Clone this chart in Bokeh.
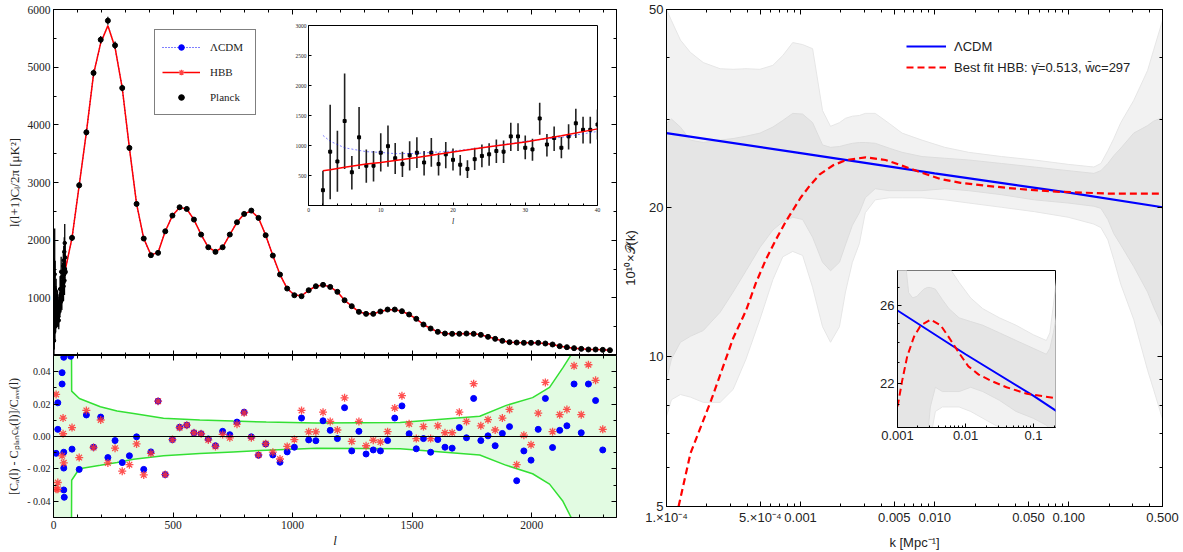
import numpy as np
from bokeh.plotting import figure
from bokeh.models import FixedTicker, LinearAxis, LogAxis, Legend, LegendItem, Span, Range1d
from bokeh.layouts import column, row
from bokeh.embed import file_html
from bokeh.resources import INLINE

# ---------------- left panel data (CMB TT) ----------------
planck_l = [47.5, 77.5, 107.5, 137.5, 167.5, 197.5, 227.5, 257.5, 287.5, 317.5,
            347.5, 377.5, 407.5, 437.5, 467.5, 497.5, 527.5, 557.5, 587.5, 617.5,
            647.5, 677.5, 707.5, 737.5, 767.5, 797.5, 827.5, 857.5, 887.5, 917.5,
            947.5, 977.5, 1007.5, 1037.5, 1067.5, 1097.5, 1127.5, 1157.5, 1187.5, 1217.5,
            1247.5, 1277.5, 1307.5, 1337.5, 1367.5, 1397.5, 1427.5, 1457.5, 1487.5, 1517.5,
            1547.5, 1577.5, 1607.5, 1637.5, 1667.5, 1697.5, 1727.5, 1757.5, 1787.5, 1817.5,
            1847.5, 1877.5, 1907.5, 1937.5, 1967.5, 1997.5, 2027.5, 2057.5, 2087.5, 2117.5,
            2147.5, 2177.5, 2207.5, 2237.5, 2267.5, 2297.5, 2327.5]
planck_cl = [1450, 2040, 2952, 3870, 4900, 5476, 5806, 5378, 4639, 3600,
             2629, 2028, 1739, 1780, 2154, 2426, 2570, 2542, 2357, 2097,
             1877, 1797, 1877, 2097, 2310, 2455, 2513, 2386, 2085, 1733,
             1404, 1161, 1045, 1028, 1132, 1201, 1225, 1190, 1104, 958,
             855, 757, 722, 722, 763, 797, 797, 768, 711, 636,
             537, 468, 410, 381, 376, 376, 381, 376, 358, 324,
             289, 254, 231, 225, 220, 220, 220, 208, 191, 162,
             144, 127, 115, 104, 104, 98, 92]
planck_err = [60, 55, 52, 55, 60, 65, 70, 65, 58, 50,
              42, 36, 34, 34, 36, 38, 38, 36, 33, 30,
              28, 28, 29, 30, 31, 31, 29, 26, 24, 21,
              19, 18, 18, 19, 19, 19, 18, 17, 16, 15,
              14, 14, 14, 14, 14, 14, 14, 13, 13, 12,
              11, 11, 11, 11, 11, 11, 11, 11, 11, 10,
              10, 10, 10, 10, 10, 10, 10, 10, 10, 10,
              10, 10, 10, 10, 10, 10, 10]
hbb_cl_bin = [1450, 2040, 2952, 3870, 4880, 5420, 5720, 5340, 4639, 3600,
              2629, 2028, 1745, 1785, 2154, 2426, 2565, 2540, 2357, 2097,
              1877, 1800, 1877, 2097, 2310, 2455, 2505, 2386, 2085, 1733,
              1404, 1161, 1050, 1035, 1132, 1201, 1222, 1190, 1104, 958,
              855, 757, 725, 725, 763, 795, 795, 768, 711, 636,
              537, 468, 410, 381, 376, 376, 380, 376, 358, 324,
              289, 254, 231, 225, 220, 220, 218, 208, 191, 162,
              144, 127, 115, 104, 104, 98, 92]
lowl_l = [2, 3, 4, 5, 6, 7, 8, 9, 10, 11, 12, 13, 14, 15, 16, 17, 18, 19, 20, 21,
          22, 23, 24, 25, 26, 27, 28, 29, 30, 31, 32, 33, 34, 35, 36, 37, 38, 39,
          40, 41, 42, 43, 44, 45, 46, 47, 48, 49]
lowl_cl = [255, 897, 734, 1408, 554, 1136, 663, 663, 880, 989,
           788, 690, 837, 880, 717, 880, 690, 853, 761, 679,
           609, 772, 826, 853, 908, 897, 1152, 1152, 962, 935,
           1451, 1016, 1125, 962, 1152, 1370, 1261, 1261,
           1350, 1550, 1200, 1650, 1400, 1800, 1300, 1950, 1500, 1700]
lowl_lo = [-98, 103, 228, 609, 266, 609, 380, 402, 565, 647,
           527, 473, 582, 625, 500, 647, 500, 620, 582, 500,
           457, 592, 636, 663, 707, 707, 908, 908, 772, 745,
           1179, 815, 908, 788, 935, 1125, 1033, 1033,
           1100, 1300, 950, 1400, 1150, 1550, 1050, 1650, 1250, 1450]
lowl_hi = [580, 1680, 1245, 2201, 826, 1641, 935, 908, 1206, 1332,
           1043, 897, 1071, 1136, 908, 1125, 880, 1060, 951, 842,
           755, 962, 1016, 1038, 1098, 1082, 1380, 1370, 1168, 1114,
           1712, 1190, 1315, 1141, 1353, 1614, 1478, 1478,
           1600, 1800, 1450, 1900, 1650, 2050, 1550, 2280, 1750, 1950]
curve_low_l = [2, 3, 5, 8, 10, 12, 15, 20, 25, 30, 35, 40]
hbb_low = [580, 595, 636, 690, 717, 750, 799, 891, 978, 1060, 1163, 1277]
lcdm_low = [1168, 1071, 962, 897, 885, 864, 868, 908, 978, 1071, 1136, 1234]

# residuals
lcdm_res_bin = [-0.0078, -0.0203, 0.0133, -0.0066, 0.012, -0.013, -0.0025, -0.0161, -0.0119, -0.0002,
                -0.0203, -0.0095, 0.0218, -0.0235, -0.0019, 0.0057, 0.007, 0.0023, 0.0017, -0.0015,
                -0.0057, 0.0032, 0.0011, 0.0089, 0.015, -0.0002, -0.0116, -0.0046, -0.0114, -0.0159,
                -0.0095, -0.0066, 0.0114, -0.0021, -0.0026, 0.0097, 0.0038, -0.0013, 0.0178, -0.0089,
                0.0032, -0.0108, -0.0083, -0.0089, -0.0025, 0.0114, 0.0189, 0.0017, -0.0076, -0.0013,
                -0.0097, -0.0019, -0.0066, -0.0072, 0.0055, -0.0008, 0.0235, -0.0025, 0.0004, -0.0057,
                0.0019, 0.0061, -0.0273, -0.0089, -0.0146, 0.0044, 0.0235, -0.0068, 0.0038, 0.0066,
                0.0324, 0.0023, 0.0324, 0.0222, -0.0083]
hbb_res_bin = [0.0055, -0.013, 0.0161, -0.0068, 0.0102, -0.0163, -0.0072, -0.0214, -0.0174, -0.0046,
               -0.0237, -0.0104, 0.0218, -0.0235, -0.0019, 0.0055, 0.007, 0.0023, 0.0017, -0.0021,
               -0.0061, 0.0013, -0.0008, 0.0076, 0.0146, -0.0008, -0.0114, -0.0044, -0.0097, -0.0139,
               -0.0061, -0.0019, 0.0161, 0.0029, 0.0029, 0.015, 0.0093, 0.004, 0.0239, -0.003,
               0.0093, -0.0057, -0.0023, -0.0034, 0.003, 0.0176, 0.0252, 0.0078, -0.0013, 0.0061,
               -0.0013, 0.0066, 0.0023, 0.0023, 0.015, 0.0093, 0.0326, 0.0066, 0.0104, 0.004,
               0.0114, 0.0167, -0.0174, 0.0008, -0.0051, 0.0144, 0.0334, 0.003, 0.0135, 0.0167,
               0.0436, 0.0135, 0.0443, 0.0347, 0.0044]
lcdm_res_low_l = [11, 18, 18, 36, 36, 43, 43, 43, 43, 45, 72]
lcdm_res_low = [-0.0104, 0.0208, 0.0044, 0.0394, 0.0324, 0.0489, -0.0097, -0.0195, -0.033, -0.0375, 0.0495]
hbb_res_low_l = [11, 18, 11, 18, 40, 40, 36, 43]
hbb_res_low = [0.026, -0.0284, -0.0326, -0.0326, 0.0114, 0.0017, -0.0119, -0.0163]
band_l = [0, 74, 76, 108, 196, 266, 335, 460, 612, 751, 890, 1100, 1450, 1783, 1894, 2004, 2075, 2131, 2172, 2180, 2400]
band_up = [0.1, 0.1, 0.028, 0.0235, 0.0184, 0.0157, 0.0142, 0.0112, 0.0102, 0.0095, 0.0089,
           0.0083, 0.0087, 0.0125, 0.0192, 0.024, 0.0303, 0.0425, 0.052, 0.1, 0.1]
band_dn = [-0.1, -0.1, -0.027, -0.0199, -0.0178, -0.016, -0.014, -0.0119, -0.0105, -0.0095, -0.0085,
           -0.0072, -0.0076, -0.0114, -0.0178, -0.023, -0.0294, -0.04, -0.052, -0.1, -0.1]

# ---------------- right panel data (primordial spectrum) ----------------
band_k = [1.0e-4, 1.089e-4, 1.27e-4, 1.506e-4, 1.881e-4, 2.513e-4, 3.138e-4, 3.918e-4, 4.976e-4, 6.212e-4,
          7.366e-4, 8.738e-4, 1.036e-3, 1.229e-3, 1.458e-3, 1.672e-3, 1.949e-3, 2.16e-3, 2.434e-3, 2.743e-3,
          3.038e-3, 3.603e-3, 4.577e-3, 5.713e-3, 8.038e-3, 1.19e-2, 1.793e-2, 3.149e-2, 5.532e-2, 9.881e-2,
          0.154, 0.1736, 0.1956, 0.2167, 0.2442, 0.3049, 0.3871, 0.4289, 0.5]
outer_hi = [50, 47.5, 43.4, 41.0, 39.1, 38.0, 37.9, 38.0, 37.9, 38.6,
            40.4, 42.9, 42.5, 41.7, 31.3, 29.1, 29.6, 30.2, 30.5, 30.6,
            30.9, 30.9, 29.5, 28.2, 27.3, 26.4, 25.8, 25.3, 24.9, 24.4,
            24.1, 24.5, 26.0, 27.5, 29.6, 32.8, 37.7, 41.4, 47.5]
inner_hi = [29.5, 30.1, 29.0, 27.3, 27.0, 27.3, 27.5, 27.8, 28.2, 29.0,
            29.9, 30.9, 30.8, 29.6, 26.7, 26.4, 26.5, 26.7, 26.9, 27.0,
            27.0, 26.9, 26.3, 25.8, 25.3, 25.1, 24.9, 24.5, 24.1, 23.7,
            23.4, 23.7, 24.5, 25.4, 26.3, 28.2, 29.2, 29.8, 30.3]
inner_lo = [9.0, 9.9, 10.7, 11.0, 11.3, 12.3, 13.5, 14.9, 16.6, 18.0,
            18.7, 19.1, 18.9, 17.4, 15.5, 14.9, 15.5, 16.8, 18.4, 19.5,
            20.9, 21.8, 21.6, 21.6, 21.6, 21.8, 21.6, 21.2, 20.7, 20.4,
            20.1, 19.9, 18.9, 17.7, 16.8, 15.2, 13.5, 12.6, 11.5]
outer_lo = [7.6, 8.2, 8.4, 8.3, 8.1, 8.1, 8.6, 9.9, 11.9, 14.3,
            15.9, 16.3, 16.0, 13.8, 11.5, 10.7, 11.5, 13.5, 15.5, 16.9,
            19.5, 20.7, 20.9, 20.9, 20.9, 20.7, 20.4, 20.0, 19.6, 19.1,
            18.5, 18.2, 17.2, 15.7, 14.0, 11.9, 9.4, 8.6, 7.5]
lcdm_k = [1e-4, 1e-3, 1e-2, 0.1, 0.5]
lcdm_p = [28.2, 25.7, 23.4, 21.4, 20.0]
hbb_k = [1.23e-4, 1.51e-4, 2.16e-4, 3.14e-4, 3.92e-4, 4.65e-4, 5.51e-4, 6.53e-4, 7.74e-4, 1.0e-3,
         1.17e-3, 1.39e-3, 1.75e-3, 2.2e-3, 3.06e-3, 4.3e-3, 5.6e-3, 7.9e-3, 1.1e-2, 1.56e-2,
         2.4e-2, 4.0e-2, 8.0e-2, 0.21, 0.5]
hbb_p = [5.0, 6.4, 8.2, 10.9, 12.4, 14.1, 15.7, 17.2, 18.7, 20.9,
         22.1, 23.3, 24.3, 24.9, 25.2, 24.9, 24.3, 23.5, 22.8, 22.4,
         22.1, 21.8, 21.5, 21.3, 21.3]

kx_ticks = [1e-4, 5e-4, 1e-3, 5e-3, 1e-2, 5e-2, 0.1, 0.5]
kx_labels = ["1.\u00d710\u207b\u2074", "5.\u00d710\u207b\u2074", "0.001", "0.005", "0.010", "0.050", "0.100", "0.500"]
kx_minor = [2e-4, 3e-4, 4e-4, 6e-4, 7e-4, 8e-4, 9e-4, 2e-3, 3e-3, 4e-3, 6e-3, 7e-3, 8e-3, 9e-3,
            2e-2, 3e-2, 4e-2, 6e-2, 7e-2, 8e-2, 9e-2, 0.2, 0.3, 0.4]
py_ticks = [5, 10, 20, 50]
py_minor = [6, 7, 8, 9, 30, 40]

SERIF = "Liberation Serif"
SANS = "Liberation Sans"
TXT = "#222222"
NAN = [float("nan")]   # legend-only proxies: never drawn in the frame


def style_ax(ax, font, size, labels=True, tin=5, min_in=3, standoff=3):
    ax.axis_line_color = "black"
    ax.major_tick_line_color = "black"
    ax.minor_tick_line_color = "black"
    ax.major_tick_in = tin
    ax.major_tick_out = 0
    ax.minor_tick_in = min_in
    ax.minor_tick_out = 0
    ax.major_label_text_font = font
    ax.major_label_text_color = TXT
    ax.axis_label_text_font = font
    ax.axis_label_text_color = TXT
    ax.axis_label_text_font_style = "normal"
    if labels:
        ax.major_label_text_font_size = size
        ax.major_label_standoff = standoff
    else:
        ax.major_label_text_font_size = "0px"
        ax.major_label_text_color = None
        ax.major_label_standoff = 0


def base(fig):
    fig.grid.visible = False
    fig.outline_line_color = "black"
    fig.outline_line_width = 1
    fig.background_fill_color = "white"
    fig.border_fill_color = "white"


lx_ticker = FixedTicker(ticks=[0, 500, 1000, 1500, 2000],
                        minor_ticks=[100, 200, 300, 400, 600, 700, 800, 900, 1100, 1200, 1300, 1400,
                                     1600, 1700, 1800, 1900, 2100, 2200, 2300])

# ---------------- top-left: spectrum ----------------
top = figure(width=620, height=355, x_range=Range1d(0, 2355), y_range=Range1d(0, 6000),
             output_backend="svg", toolbar_location=None,
             min_border_left=53, min_border_right=4, min_border_top=9, min_border_bottom=0)
base(top)
top.xaxis.ticker = lx_ticker
style_ax(top.xaxis[0], SERIF, "11px", labels=False)
top.yaxis.ticker = FixedTicker(ticks=[1000, 2000, 3000, 4000, 5000, 6000],
                               minor_ticks=[500, 1500, 2500, 3500, 4500, 5500])
style_ax(top.yaxis[0], SERIF, "11.5px")
top.yaxis.axis_label = "l(l+1)C\u2097/2\u03c0 [\u03bcK\u00b2]"
top.yaxis.axis_label_text_font_size = "13px"
top.yaxis.axis_label_standoff = 3
ax = LinearAxis(ticker=lx_ticker); style_ax(ax, SERIF, "0px", labels=False); top.add_layout(ax, "above")
ax = LinearAxis(ticker=FixedTicker(ticks=[1000, 2000, 3000, 4000, 5000, 6000],
                                   minor_ticks=[500, 1500, 2500, 3500, 4500, 5500]))
style_ax(ax, SERIF, "0px", labels=False); top.add_layout(ax, "right")

curve_l = curve_low_l + planck_l
hbb_curve = hbb_low + hbb_cl_bin
lcdm_curve = lcdm_low + hbb_cl_bin
lcdm_line = top.line(curve_l, lcdm_curve, line_color="blue", line_width=1.2, line_dash="1 2")
hbb_line = top.line(curve_l, hbb_curve, line_color="red", line_width=1.5)
top.segment(x0=lowl_l, y0=lowl_lo, x1=lowl_l, y1=lowl_hi, line_color="black", line_width=1.3)
top.scatter(lowl_l, lowl_cl, marker="circle", size=3.5, color="black")
pl = np.array(planck_l); pc = np.array(planck_cl); pe = np.array(planck_err)
top.segment(x0=pl, y0=pc - pe, x1=pl, y1=pc + pe, line_color="black", line_width=1.2)
planck_pts = top.scatter(planck_l, planck_cl, marker="circle", size=5, color="black")
# legend proxies (NaN position: only their legend glyphs appear)
px_blue = top.scatter(x=NAN, y=NAN, marker="circle", size=6, color="blue")
px_star = top.scatter(x=NAN, y=NAN, marker="asterisk", size=7, line_color="#ff4444", line_width=1.2)
px_bar = top.scatter(x=NAN, y=NAN, marker="dash", angle=np.pi / 2, size=13, line_color="black", line_width=1.5)
leg1 = Legend(items=[LegendItem(label="\u039bCDM", renderers=[lcdm_line, px_blue]),
                     LegendItem(label="HBB", renderers=[hbb_line, px_star]),
                     LegendItem(label="Planck", renderers=[px_bar, planck_pts])],
              location=(101, 240), padding=7, spacing=5, glyph_width=38, glyph_height=14,
              label_height=20, label_width=38, label_standoff=10,
              border_line_color="black", border_line_width=1, background_fill_color="white",
              background_fill_alpha=1, label_text_font=SERIF, label_text_font_size="11px",
              label_text_color=TXT)
top.add_layout(leg1)

# ---------------- bottom-left: residuals ----------------
bot = figure(width=620, height=197, x_range=top.x_range, y_range=Range1d(-0.05, 0.05),
             output_backend="svg", toolbar_location=None,
             min_border_left=53, min_border_right=4, min_border_top=0, min_border_bottom=35)
base(bot)
bot.xaxis.ticker = lx_ticker
style_ax(bot.xaxis[0], SERIF, "11.5px", standoff=3)
bot.xaxis.axis_label = "l"
bot.xaxis.axis_label_text_font_style = "italic"
bot.xaxis.axis_label_text_font_size = "13px"
bot.xaxis.axis_label_standoff = 1
ry_ticker = FixedTicker(ticks=[-0.04, -0.02, 0, 0.02, 0.04], minor_ticks=[-0.03, -0.01, 0.01, 0.03])
bot.yaxis.ticker = ry_ticker
style_ax(bot.yaxis[0], SERIF, "10px")
bot.yaxis.major_label_overrides = {0.04: "0.04", 0.02: "0.02", 0: "0.00", -0.02: "- 0.02", -0.04: "- 0.04"}
bot.yaxis.axis_label = "[C\u2090(l) - C\u209a\u2097\u2090\u2099c\u2096(l)]/C\u2090\u1d65\u2091(l)"
bot.yaxis.axis_label_text_font_size = "12px"
bot.yaxis.axis_label_standoff = 3
ax = LinearAxis(ticker=lx_ticker); style_ax(ax, SERIF, "0px", labels=False); bot.add_layout(ax, "above")
ax = LinearAxis(ticker=FixedTicker(ticks=[-0.04, -0.02, 0, 0.02, 0.04], minor_ticks=[-0.03, -0.01, 0.01, 0.03]))
style_ax(ax, SERIF, "0px", labels=False); bot.add_layout(ax, "right")

bot.varea(x=band_l, y1=band_dn, y2=band_up, fill_color="#e2fbe2")
bot.line(band_l, band_up, line_color="#33e033", line_width=1.5)
bot.line(band_l, band_dn, line_color="#33e033", line_width=1.5)
bot.add_layout(Span(location=0, dimension="width", line_color="black", line_width=1.2))
res_l = planck_l[1:76]
bot.scatter(lcdm_res_low_l + res_l, lcdm_res_low + lcdm_res_bin, marker="circle", size=6, color="blue")
bot.scatter(hbb_res_low_l + res_l, hbb_res_low + hbb_res_bin, marker="asterisk", size=8,
            line_color="#ff3333", line_width=1.3, line_alpha=0.85)

# ---------------- inset top-left ----------------
ins1 = figure(width=317, height=206, x_range=Range1d(0, 40), y_range=Range1d(0, 3000),
              output_backend="svg", toolbar_location=None,
              min_border_left=16, min_border_right=3, min_border_top=3, min_border_bottom=20,
              styles={"position": "absolute", "left": "284px", "top": "22px", "z-index": "10"})
base(ins1)
ins1.xaxis.ticker = FixedTicker(ticks=[0, 10, 20, 30, 40], minor_ticks=[2, 4, 6, 8, 12, 14, 16, 18, 22, 24, 26, 28, 32, 34, 36, 38])
style_ax(ins1.xaxis[0], SERIF, "5.5px", tin=3, min_in=2, standoff=2)
ins1.xaxis.axis_label = "l"
ins1.xaxis.axis_label_text_font_style = "italic"
ins1.xaxis.axis_label_text_font_size = "8px"
ins1.xaxis.axis_label_standoff = 2
ins1.yaxis.ticker = FixedTicker(ticks=[500, 1000, 1500, 2000, 2500, 3000])
style_ax(ins1.yaxis[0], SERIF, "5.5px", tin=3, min_in=2, standoff=2)
ins1.segment(x0=lowl_l, y0=lowl_lo, x1=lowl_l, y1=lowl_hi, line_color="#222222", line_width=1.6)
ins1.scatter(lowl_l, lowl_cl, marker="square", size=3, color="black")
ins1.line(curve_low_l, lcdm_low, line_color="blue", line_alpha=0.5, line_width=1, line_dash="2 2")
ins1.line(curve_low_l, hbb_low, line_color="red", line_width=1.5)

# ---------------- right: primordial power spectrum ----------------
right = figure(width=563, height=552, x_axis_type="log", y_axis_type="log",
               x_range=Range1d(1e-4, 0.5), y_range=Range1d(5, 50),
               output_backend="svg", toolbar_location=None,
               min_border_left=43, min_border_right=21, min_border_top=9, min_border_bottom=45)
base(right)
right.xaxis.ticker = FixedTicker(ticks=kx_ticks, minor_ticks=kx_minor)
style_ax(right.xaxis[0], SANS, "13px")
right.xaxis.major_label_overrides = dict(zip(kx_ticks, kx_labels))
right.xaxis.axis_label = "k [Mpc\u207b\u00b9]"
right.xaxis.axis_label_text_font_size = "13px"
right.xaxis.axis_label_standoff = 7
right.yaxis.ticker = FixedTicker(ticks=py_ticks, minor_ticks=py_minor)
style_ax(right.yaxis[0], SANS, "13px")
right.yaxis.major_label_overrides = {5: "5", 10: "10", 20: "20", 50: "50"}
right.yaxis.axis_label = "10\u00b9\u2070\u00d7\U0001d4ab(k)"
right.yaxis.axis_label_text_font_size = "13px"
right.yaxis.axis_label_standoff = 8
ax = LogAxis(ticker=FixedTicker(ticks=kx_ticks, minor_ticks=kx_minor)); style_ax(ax, SANS, "0px", labels=False)
right.add_layout(ax, "above")
ax = LogAxis(ticker=FixedTicker(ticks=py_ticks, minor_ticks=py_minor)); style_ax(ax, SANS, "0px", labels=False)
right.add_layout(ax, "right")


def draw_spectrum(fig, lw=2.2):
    fig.varea(x=band_k, y1=outer_lo, y2=outer_hi, fill_color="#f2f2f2")
    fig.line(band_k, outer_hi, line_color="#e6e6e6", line_width=1)
    fig.line(band_k, outer_lo, line_color="#e6e6e6", line_width=1)
    fig.varea(x=band_k, y1=inner_lo, y2=inner_hi, fill_color="#e5e5e5")
    fig.line(band_k, inner_hi, line_color="#dddddd", line_width=1)
    fig.line(band_k, inner_lo, line_color="#dddddd", line_width=1)
    b = fig.line(lcdm_k, lcdm_p, line_color="blue", line_width=lw)
    r = fig.line(hbb_k, hbb_p, line_color="red", line_width=lw, line_dash="7 4")
    return b, r


blue_r, red_r = draw_spectrum(right)
leg2 = Legend(items=[LegendItem(label="\u039bCDM", renderers=[blue_r]),
                     LegendItem(label="Best fit HBB: \u03b3\u0304=0.513, w\u0304c=297", renderers=[red_r])],
              location=(240, 429), padding=0, spacing=1, glyph_width=40, glyph_height=20,
              label_height=20, label_standoff=8, border_line_color=None,
              background_fill_alpha=0, label_text_font=SANS, label_text_font_size="13px",
              label_text_color=TXT)
right.add_layout(leg2)

# ---------------- inset right ----------------
ins2 = figure(width=186, height=179, x_axis_type="log", y_axis_type="log",
              x_range=Range1d(0.001, 0.21), y_range=Range1d(20, 28),
              output_backend="svg", toolbar_location=None,
              min_border_left=24, min_border_right=4, min_border_top=2, min_border_bottom=20,
              styles={"position": "absolute", "left": "873px", "top": "268px", "z-index": "10"})
base(ins2)
ins2.xaxis.ticker = FixedTicker(ticks=[0.001, 0.01, 0.1],
                                minor_ticks=[0.002, 0.003, 0.004, 0.005, 0.006, 0.007, 0.008, 0.009,
                                             0.02, 0.03, 0.04, 0.05, 0.06, 0.07, 0.08, 0.09, 0.2])
style_ax(ins2.xaxis[0], SANS, "13px", tin=4, min_in=2)
ins2.xaxis.major_label_overrides = {0.001: "0.001", 0.01: "0.01", 0.1: "0.1"}
ins2.yaxis.ticker = FixedTicker(ticks=[22, 26], minor_ticks=[21, 23, 24, 25, 27])
style_ax(ins2.yaxis[0], SANS, "13px", tin=4, min_in=2)
ins2.yaxis.major_label_overrides = {22: "22", 26: "26"}
draw_spectrum(ins2, lw=2)

left_col = column(top, bot, spacing=0)
main_row = row(left_col, right, spacing=0)
layout = column(main_row, ins1, ins2, styles={"position": "relative"})

open("out.html", "w").write(file_html(layout, INLINE))
